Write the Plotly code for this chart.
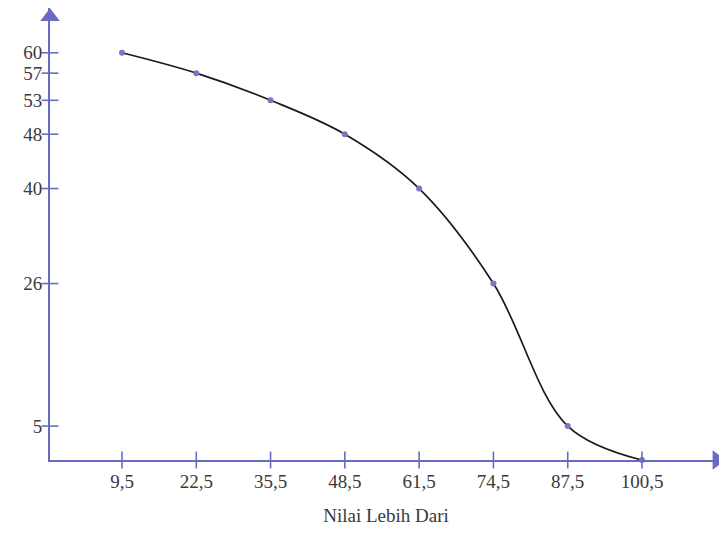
import plotly.graph_objects as go

x_vals = [9.5, 22.5, 35.5, 48.5, 61.5, 74.5, 87.5, 100.5]
y_vals = [60, 57, 53, 48, 40, 26, 5, 0]
x_ticklabels = ["9,5", "22,5", "35,5", "48,5", "61,5", "74,5", "87,5", "100,5"]
y_ticks = [5, 26, 40, 48, 53, 57, 60]
x_title = "Nilai Lebih Dari"

AXIS = "#6a6abf"
XMIN, XMAX = -3.1, 114.5
YMIN, YMAX = 0, 66.6
ARROW_X = 113.6   # arrowhead centre on the x axis (axis decoration)
ARROW_Y = 65.3    # arrowhead centre on the y axis (axis decoration)

fig = go.Figure()
fig.add_trace(go.Scatter(
    x=x_vals, y=y_vals, mode="lines",
    line=dict(shape="spline", smoothing=1.0, color="#1a1a1a", width=1.7),
    cliponaxis=False, hoverinfo="skip"))
fig.add_trace(go.Scatter(
    x=x_vals, y=y_vals, mode="markers",
    marker=dict(size=6, color="#7878c0"), cliponaxis=False))
# crossing tick marks
fig.add_trace(go.Scatter(
    x=x_vals, y=[0]*len(x_vals), mode="markers",
    marker=dict(symbol="line-ns-open", size=12, color=AXIS, line=dict(color=AXIS, width=1.6)),
    cliponaxis=False, hoverinfo="skip"))
fig.add_trace(go.Scatter(
    x=[XMIN]*len(y_ticks), y=y_ticks, mode="markers",
    marker=dict(symbol="line-ew-open", size=12, color=AXIS, line=dict(color=AXIS, width=1.6)),
    cliponaxis=False, hoverinfo="skip"))
# arrowheads
fig.add_trace(go.Scatter(
    x=[ARROW_X], y=[YMIN], mode="markers",
    marker=dict(symbol="triangle-right", size=17, color=AXIS),
    cliponaxis=False, hoverinfo="skip"))
fig.add_trace(go.Scatter(
    x=[XMIN], y=[ARROW_Y], mode="markers",
    marker=dict(symbol="triangle-up", size=17, color=AXIS),
    cliponaxis=False, hoverinfo="skip"))

font = dict(family="Liberation Serif", size=19, color="#3a3a3a")
fig.update_layout(
    width=727, height=538,
    margin=dict(l=42, r=13, t=0, b=86, autoexpand=False),
    paper_bgcolor="white", plot_bgcolor="white",
    showlegend=False,
    font=font,
    xaxis=dict(range=[XMIN, XMAX], tickvals=x_vals, ticktext=x_ticklabels,
               showgrid=False, zeroline=False, showline=True, linecolor=AXIS, linewidth=2,
               ticks="", ticklabelstandoff=3, automargin=False, tickfont=font,
               title=dict(text=x_title, font=font, standoff=18)),
    yaxis=dict(range=[YMIN, YMAX], tickvals=y_ticks, tickfont=font,
               showgrid=False, zeroline=False, showline=True, linecolor=AXIS, linewidth=2,
               ticks="", ticklabelstandoff=2, automargin=False),
)
fig.write_html("out.html")
